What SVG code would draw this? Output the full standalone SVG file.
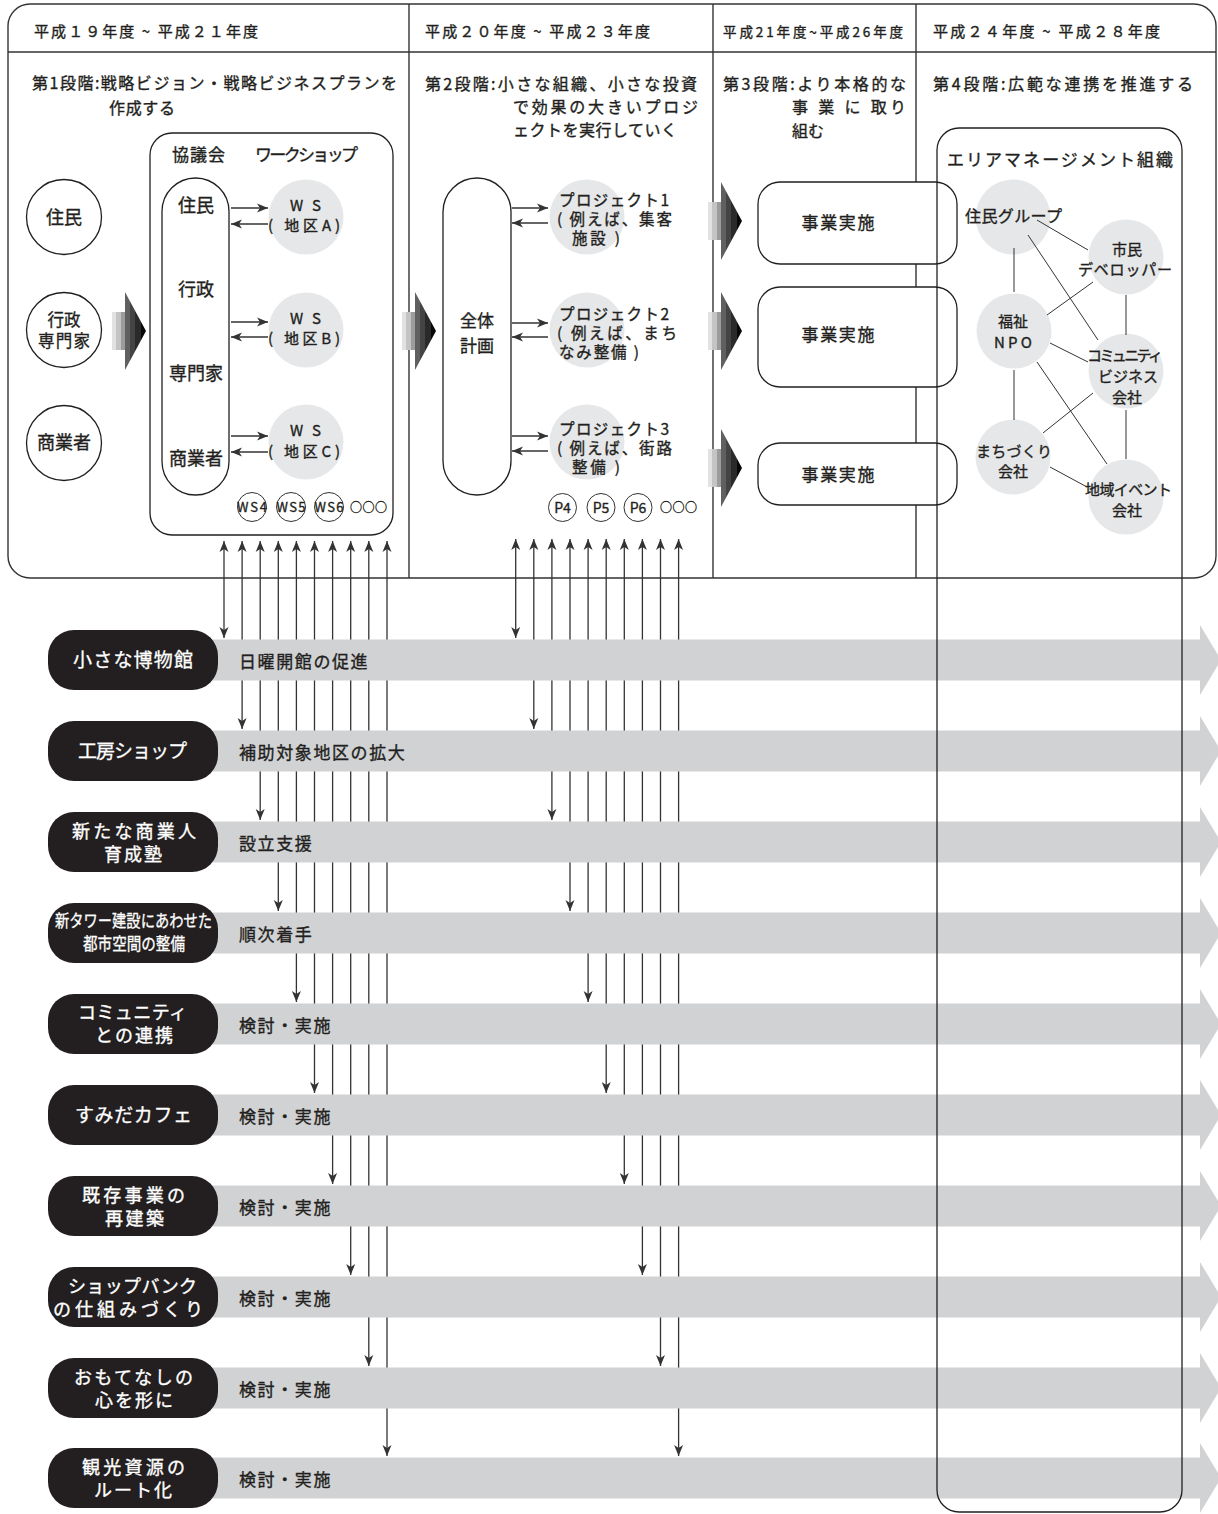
<svg xmlns="http://www.w3.org/2000/svg" xmlns:xlink="http://www.w3.org/1999/xlink" width="1218" height="1514" viewBox="0 0 1218 1514">
<style>
text{font-family:"Noto Sans CJK JP","Noto Sans",sans-serif;fill:#231f20;stroke:#231f20;stroke-width:0.35px}
.thin{stroke:#333;stroke-width:1;fill:none}
.frm{stroke:#333;stroke-width:1.4;fill:none}
.wbox{stroke:#231f20;stroke-width:1.3;fill:#fff}
.gc{fill:#e6e7e8}
.h{font-size:15px}
.ti{font-size:16px}
.lb{font-size:18px}
.lb2{font-size:16.5px}
.md{font-size:17px}
.ws{font-size:15px}
.sm{font-size:16px}
.ac{font-size:15px}
.pj{font-size:15.5px}
.xs{font-size:13px}
.mid{text-anchor:middle}
.bar{fill:#d1d2d4}
.pill{fill:#231f20}
.pt{font-size:19px;fill:#fff;stroke:#fff;stroke-width:0.3px}
.pt2{font-size:18px;fill:#fff;stroke:#fff;stroke-width:0.35px}
.bt{font-size:17px;letter-spacing:1.6px}
.arr{stroke:#333;stroke-width:1.3;fill:none;marker-end:url(#ah)}
.vl{stroke:#333;stroke-width:1.3;fill:none;marker-start:url(#ah);marker-end:url(#ah)}
</style>
<defs>
<marker id="ah" viewBox="-12 -6 13 12" refX="0" refY="0" markerWidth="13" markerHeight="12" markerUnits="userSpaceOnUse" orient="auto-start-reverse">
<path d="M0,0 L-11,-4.5 L-8,0 L-11,4.5 Z" fill="#333"/>
</marker>
<linearGradient id="gstep" x1="0" y1="0" x2="1" y2="0">
<stop offset="0" stop-color="#e2e2e2"/><stop offset="0.13" stop-color="#e2e2e2"/>
<stop offset="0.13" stop-color="#c4c4c4"/><stop offset="0.26" stop-color="#c4c4c4"/>
<stop offset="0.26" stop-color="#9c9c9c"/><stop offset="0.38" stop-color="#9c9c9c"/>
<stop offset="0.38" stop-color="#606060"/><stop offset="0.54" stop-color="#606060"/>
<stop offset="0.54" stop-color="#444"/><stop offset="0.69" stop-color="#444"/>
<stop offset="0.69" stop-color="#2a2a2a"/><stop offset="0.84" stop-color="#2a2a2a"/>
<stop offset="0.84" stop-color="#080808"/><stop offset="1" stop-color="#080808"/>
</linearGradient>
<path id="garrow" d="M0,-19 H13 V-39 L34,0 L13,39 V19 H0 Z" fill="url(#gstep)"/>
</defs>
<rect width="1218" height="1514" fill="#fff"/>

<g id="frame">
<rect class="frm" x="8" y="4" width="1208" height="574" rx="22"/>
<line class="frm" x1="8" y1="52" x2="1216" y2="52"/>
<line class="frm" x1="409" y1="4" x2="409" y2="578"/>
<line class="frm" x1="713" y1="4" x2="713" y2="578"/>
<line class="frm" x1="916" y1="4" x2="916" y2="578"/>
</g>

<g id="headers">
<text class="h" x="34" y="37" textLength="224">平成１９年度 ~ 平成２１年度</text>
<text class="h" x="425" y="37" textLength="225">平成２０年度 ~ 平成２３年度</text>
<text x="723" y="37" font-size="13.5" textLength="180">平成21年度~平成26年度</text>
<text class="h" x="933" y="37" textLength="227">平成２４年度 ~ 平成２８年度</text>
<text class="ti" x="32" y="89" textLength="365">第1段階:戦略ビジョン・戦略ビジネスプランを</text>
<text class="ti" x="109" y="114" textLength="66">作成する</text>
<text class="ti" x="425" y="90" textLength="272">第2段階:小さな組織、小さな投資</text>
<text class="ti" x="513" y="113" textLength="185">で効果の大きいプロジ</text>
<text class="ti" x="513" y="136" textLength="164">ェクトを実行していく</text>
<text class="ti" x="723" y="90" textLength="183">第3段階:より本格的な</text>
<text class="ti" x="792" y="113" textLength="114">事 業 に 取り</text>
<text class="ti" x="792" y="137">組む</text>
<text class="ti" x="933" y="90" textLength="260">第4段階:広範な連携を推進する</text>
</g>

<g id="stage1">
<g id="actor-jumin"><circle class="wbox" cx="64" cy="217" r="37.5"/><text class="lb mid" x="64" y="224">住民</text></g>
<g id="actor-gyosei"><circle class="wbox" cx="64" cy="330" r="37.5"/><text class="lb2 mid" x="64" y="326">行政</text><text class="lb2 mid" x="64" y="347" textLength="52">専門家</text></g>
<g id="actor-shogyo"><circle class="wbox" cx="64" cy="443" r="37.5"/><text class="lb mid" x="64" y="449">商業者</text></g>
<use id="garrow1" xlink:href="#garrow" href="#garrow" transform="translate(112,331)"/>
<g id="council-box">
<rect class="wbox" x="150" y="133" width="243" height="402" rx="22"/>
<text class="md" x="172" y="161" textLength="53">協議会</text>
<text class="md" x="255" y="161" textLength="103">ワークショップ</text>
</g>
<g id="council">
<rect class="wbox" x="162" y="178" width="67" height="317" rx="33.5"/>
<text class="lb mid" x="196" y="212">住民</text>
<text class="lb mid" x="196" y="296">行政</text>
<text class="lb mid" x="196" y="380">専門家</text>
<text class="lb mid" x="196" y="465">商業者</text>
</g>
<g id="ws-a"><circle class="gc" cx="306" cy="217" r="37.5"/><text class="ws" x="290" y="211" textLength="31">WS</text><text class="ws" x="268" y="231" textLength="72">( 地区A)</text></g>
<g id="ws-b"><circle class="gc" cx="306" cy="330" r="37.5"/><text class="ws" x="290" y="324" textLength="31">WS</text><text class="ws" x="268" y="344" textLength="72">( 地区B)</text></g>
<g id="ws-c"><circle class="gc" cx="306" cy="442" r="37.5"/><text class="ws" x="290" y="436" textLength="31">WS</text><text class="ws" x="268" y="457" textLength="72">( 地区C)</text></g>
<g id="ws-more">
<circle class="thin" cx="252" cy="507" r="14.5"/><circle class="thin" cx="291" cy="507" r="14.5"/><circle class="thin" cx="329" cy="507" r="14.5"/>
<text class="xs mid" x="252" y="512" textLength="30">WS4</text>
<text class="xs mid" x="291" y="512" textLength="29">WS5</text>
<text class="xs mid" x="329" y="512" textLength="29">WS6</text>
<text x="350" y="512" font-size="12" textLength="37">○○○</text>
</g>
</g>

<g id="stage2">
<use id="garrow2" xlink:href="#garrow" href="#garrow" transform="translate(402,331)"/>
<g id="master-plan">
<rect class="wbox" x="443" y="178" width="68" height="317" rx="34"/>
<text class="md mid" x="477" y="327">全体</text>
<text class="md mid" x="477" y="352">計画</text>
</g>
<g id="project1"><circle class="gc" cx="587" cy="217" r="37.5"/>
<text class="pj" x="559" y="206" textLength="110">プロジェクト1</text>
<text class="pj" x="557" y="225" textLength="115">( 例えば、集客</text>
<text class="pj" x="572" y="244" textLength="48">施設 )</text></g>
<g id="project2"><circle class="gc" cx="587" cy="330" r="37.5"/>
<text class="pj" x="559" y="320" textLength="110">プロジェクト2</text>
<text class="pj" x="557" y="339" textLength="120">( 例えば、まち</text>
<text class="pj" x="559" y="358" textLength="80">なみ整備 )</text></g>
<g id="project3"><circle class="gc" cx="587" cy="442" r="37.5"/>
<text class="pj" x="559" y="435" textLength="110">プロジェクト3</text>
<text class="pj" x="557" y="454" textLength="115">( 例えば、街路</text>
<text class="pj" x="572" y="473" textLength="48">整備 )</text></g>
<g id="p-more">
<circle class="thin" cx="562.5" cy="507.5" r="14"/><circle class="thin" cx="601" cy="507.5" r="14"/><circle class="thin" cx="638" cy="507.5" r="14"/>
<text x="562.5" y="513" font-size="14" class="mid">P4</text>
<text x="601" y="513" font-size="14" class="mid">P5</text>
<text x="638" y="513" font-size="14" class="mid">P6</text>
<text x="660" y="512" font-size="12" textLength="37">○○○</text>
</g>
</g>

<g id="stage3">
<use xlink:href="#garrow" href="#garrow" transform="translate(708,221)"/>
<use xlink:href="#garrow" href="#garrow" transform="translate(708,331)"/>
<use xlink:href="#garrow" href="#garrow" transform="translate(708,468)"/>
<g id="jigyo1"><rect class="wbox" x="758" y="182" width="199" height="82" rx="22"/><text class="md mid" x="838" y="229" textLength="73">事業実施</text></g>
<g id="jigyo2"><rect class="wbox" x="758" y="287" width="199" height="100" rx="22"/><text class="md mid" x="838" y="341" textLength="73">事業実施</text></g>
<g id="jigyo3"><rect class="wbox" x="758" y="443" width="199" height="62" rx="22"/><text class="md mid" x="838" y="481" textLength="73">事業実施</text></g>
</g>

<g id="stage4">
<g id="jumin-group"><circle class="gc" cx="1013" cy="217" r="37.5"/><text class="sm" x="965" y="222" textLength="97">住民グループ</text></g>
<g id="shimin-dev"><circle class="gc" cx="1126" cy="257" r="37.5"/><text class="ac mid" x="1127" y="255">市民</text><text class="ac" x="1078" y="275" textLength="94">デベロッパー</text></g>
<g id="fukushi-npo"><circle class="gc" cx="1014" cy="331" r="37.5"/><text class="ac mid" x="1013" y="327">福祉</text><text class="ac mid" x="1013" y="348" textLength="38">NPO</text></g>
<g id="community-biz"><circle class="gc" cx="1126" cy="371" r="37.5"/><text class="ac" x="1087" y="361" textLength="76">コミュニティ</text><text class="ac" x="1098" y="382" textLength="60">ビジネス</text><text class="ac mid" x="1127" y="403">会社</text></g>
<g id="machizukuri"><circle class="gc" cx="1013" cy="457" r="37.5"/><text class="ac" x="976" y="457" textLength="76">まちづくり</text><text class="ac mid" x="1013" y="477">会社</text></g>
<g id="event-co"><circle class="gc" cx="1126" cy="497" r="37.5"/><text class="ac" x="1085" y="495" textLength="87">地域イベント</text><text class="ac mid" x="1127" y="516">会社</text></g>
</g>

<g id="connectors">
<path class="arr" d="M231,208 H268"/><path class="arr" d="M268,224 H231"/>
<path class="arr" d="M231,322 H268"/><path class="arr" d="M268,337 H231"/>
<path class="arr" d="M231,436 H268"/><path class="arr" d="M268,452 H231"/>
<path class="arr" d="M512,208 H548"/><path class="arr" d="M548,223 H512"/>
<path class="arr" d="M512,323 H548"/><path class="arr" d="M548,337 H512"/>
<path class="arr" d="M512,436 H548"/><path class="arr" d="M548,451 H512"/>
<path class="thin" d="M1014,248 V292"/>
<path class="thin" d="M1037,220 L1088,250"/>
<path class="thin" d="M1028,235 L1098,340"/>
<path class="thin" d="M1093,282 L1047,315"/>
<path class="thin" d="M1126,295 V335"/>
<path class="thin" d="M1050,343 L1088,362"/>
<path class="thin" d="M1037,362 L1107,464"/>
<path class="thin" d="M1014,370 V420"/>
<path class="thin" d="M1093,393 L1043,433"/>
<path class="thin" d="M1126,410 V459"/>
<path class="thin" d="M1050,467 L1087,487"/>
<path class="vl" d="M224,541 V638"/>
<path class="vl" d="M242.1,541 V729"/>
<path class="vl" d="M260.2,541 V820"/>
<path class="vl" d="M278.3,541 V911"/>
<path class="vl" d="M296.4,541 V1002"/>
<path class="vl" d="M314.5,541 V1093"/>
<path class="vl" d="M332.6,541 V1184"/>
<path class="vl" d="M350.7,541 V1275"/>
<path class="vl" d="M368.8,541 V1366"/>
<path class="vl" d="M387,541 V1456"/>
<path class="vl" d="M515.7,539 V638"/>
<path class="vl" d="M533.8,539 V729"/>
<path class="vl" d="M551.9,539 V820"/>
<path class="vl" d="M570,539 V911"/>
<path class="vl" d="M588.1,539 V1002"/>
<path class="vl" d="M606.2,539 V1093"/>
<path class="vl" d="M624.3,539 V1184"/>
<path class="vl" d="M642.4,539 V1275"/>
<path class="vl" d="M660.5,539 V1366"/>
<path class="vl" d="M678.6,539 V1456"/>
</g>

<g id="row1"><path class="bar" d="M200,639.5 H1200 V625 L1221,660 L1200,695 V680.5 H200 Z"/><rect class="pill" x="48" y="630" width="170" height="60" rx="26"/>
<text class="pt" x="73" y="667" textLength="120">小さな博物館</text><text class="bt" x="239" y="668">日曜開館の促進</text></g>
<g id="row2"><path class="bar" d="M200,730.5 H1200 V716 L1221,751 L1200,786 V771.5 H200 Z"/><rect class="pill" x="48" y="721" width="170" height="60" rx="26"/>
<text class="pt" x="78" y="758" textLength="109">工房ショップ</text><text class="bt" x="239" y="759">補助対象地区の拡大</text></g>
<g id="row3"><path class="bar" d="M200,821.5 H1200 V807 L1221,842 L1200,877 V862.5 H200 Z"/><rect class="pill" x="48" y="812" width="170" height="60" rx="26"/>
<text class="pt2" x="72" y="838" textLength="124">新たな商業人</text><text class="pt2" x="104" y="861" textLength="58">育成塾</text><text class="bt" x="239" y="850">設立支援</text></g>
<g id="row4"><path class="bar" d="M200,912.5 H1200 V898 L1221,933 L1200,968 V953.5 H200 Z"/><rect class="pill" x="48" y="903" width="170" height="60" rx="26"/>
<text x="55" y="927" font-size="17" style="fill:#fff;stroke:#fff;stroke-width:0.3px" textLength="157" lengthAdjust="spacingAndGlyphs">新タワー建設にあわせた</text><text x="83" y="950" font-size="17" style="fill:#fff;stroke:#fff;stroke-width:0.3px" textLength="102" lengthAdjust="spacingAndGlyphs">都市空間の整備</text><text class="bt" x="239" y="941">順次着手</text></g>
<g id="row5"><path class="bar" d="M200,1003.5 H1200 V989 L1221,1024 L1200,1059 V1044.5 H200 Z"/><rect class="pill" x="48" y="994" width="170" height="60" rx="26"/>
<text class="pt2" x="78" y="1019" textLength="109">コミュニティ</text><text class="pt2" x="95" y="1042" textLength="78">との連携</text><text class="bt" x="239" y="1032">検討・実施</text></g>
<g id="row6"><path class="bar" d="M200,1094.5 H1200 V1080 L1221,1115 L1200,1150 V1135.5 H200 Z"/><rect class="pill" x="48" y="1085" width="170" height="60" rx="26"/>
<text class="pt" x="75" y="1122" textLength="117">すみだカフェ</text><text class="bt" x="239" y="1123">検討・実施</text></g>
<g id="row7"><path class="bar" d="M200,1185.5 H1200 V1171 L1221,1206 L1200,1241 V1226.5 H200 Z"/><rect class="pill" x="48" y="1176" width="170" height="60" rx="26"/>
<text class="pt2" x="82" y="1202" textLength="103">既存事業の</text><text class="pt2" x="105" y="1225" textLength="59">再建築</text><text class="bt" x="239" y="1214">検討・実施</text></g>
<g id="row8"><path class="bar" d="M200,1276.5 H1200 V1262 L1221,1297 L1200,1332 V1317.5 H200 Z"/><rect class="pill" x="48" y="1267" width="170" height="60" rx="26"/>
<text class="pt2" x="68" y="1293" textLength="129">ショップバンク</text><text class="pt2" x="53" y="1316" textLength="150">の仕組みづくり</text><text class="bt" x="239" y="1305">検討・実施</text></g>
<g id="row9"><path class="bar" d="M200,1367.5 H1200 V1353 L1221,1388 L1200,1423 V1408.5 H200 Z"/><rect class="pill" x="48" y="1358" width="170" height="60" rx="26"/>
<text class="pt2" x="74" y="1384" textLength="119">おもてなしの</text><text class="pt2" x="95" y="1407" textLength="78">心を形に</text><text class="bt" x="239" y="1396">検討・実施</text></g>
<g id="row10"><path class="bar" d="M200,1457.5 H1200 V1443 L1221,1478 L1200,1513 V1498.5 H200 Z"/><rect class="pill" x="48" y="1448" width="170" height="60" rx="26"/>
<text class="pt2" x="82" y="1474" textLength="103">観光資源の</text><text class="pt2" x="94" y="1497" textLength="78">ルート化</text><text class="bt" x="239" y="1486">検討・実施</text></g>

<g id="area-management">
<rect x="937" y="128" width="245" height="1384" rx="22" fill="none" stroke="#231f20" stroke-width="1.3"/>
<text class="md" x="947" y="166" textLength="226">エリアマネージメント組織</text>
</g>
</svg>
